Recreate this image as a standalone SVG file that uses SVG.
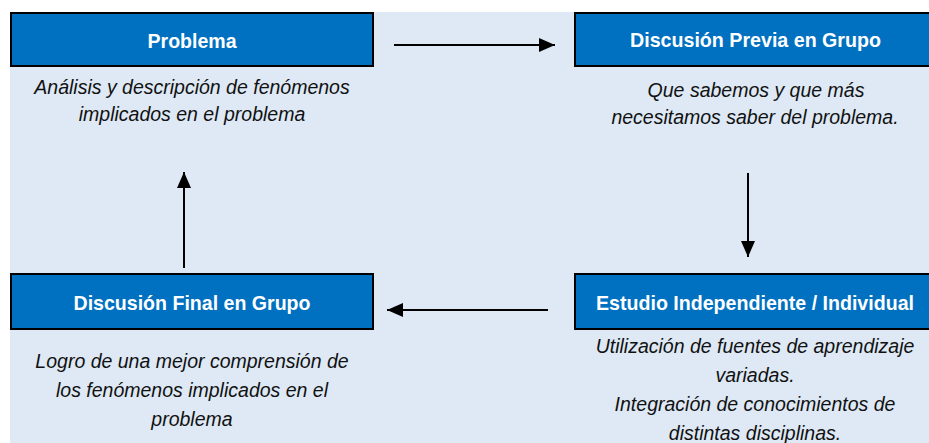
<svg xmlns="http://www.w3.org/2000/svg" width="929" height="443" viewBox="0 0 929 443">
  <defs>
    <style>
      .box { fill: #0070C0; stroke: #000; stroke-width: 2; }
      .title { font-family: "Liberation Sans", Arial, sans-serif; font-weight: bold; font-size: 21px; fill: #fff; text-anchor: middle; }
      .desc { font-family: "Liberation Sans", Arial, sans-serif; font-style: italic; font-size: 19.5px; fill: #111; text-anchor: middle; }
      .conn { stroke: #000; stroke-width: 2; fill: none; marker-end: url(#arrow); }
    </style>
    <marker id="arrow" viewBox="0 0 16 14" refX="16" refY="7" markerWidth="16" markerHeight="14" markerUnits="userSpaceOnUse" orient="auto">
      <path d="M0,0 L16,7 L0,14 Z" fill="#000"/>
    </marker>
  </defs>
  <rect x="0" y="0" width="929" height="443" fill="#fff"/>
  <rect x="10" y="12" width="919" height="431" fill="#DEE9F5"/>

  <g id="connectors">
    <line class="conn" x1="394" y1="45" x2="555" y2="45"/>
    <line class="conn" x1="748" y1="173" x2="748" y2="257"/>
    <line class="conn" x1="548" y1="310" x2="387" y2="310"/>
    <line class="conn" x1="184" y1="268" x2="184" y2="172"/>
  </g>

  <g id="problema">
    <rect class="box" x="11" y="13" width="362" height="53"/>
    <text class="title" x="192" y="48" textLength="89" lengthAdjust="spacingAndGlyphs">Problema</text>
    <text class="desc" x="192" y="94">Análisis y descripción de fenómenos</text>
    <text class="desc" x="192" y="121">implicados en el problema</text>
  </g>

  <g id="discusion-previa">
    <rect class="box" x="575" y="13" width="356" height="53"/>
    <text class="title" x="755.5" y="47" textLength="251" lengthAdjust="spacingAndGlyphs">Discusión Previa en Grupo</text>
    <text class="desc" x="756" y="97">Que sabemos y que más</text>
    <text class="desc" x="755" y="124">necesitamos saber del problema.</text>
  </g>

  <g id="estudio">
    <rect class="box" x="575" y="274" width="356" height="55"/>
    <text class="title" x="755" y="310" textLength="318" lengthAdjust="spacingAndGlyphs">Estudio Independiente / Individual</text>
    <text class="desc" x="755" y="353">Utilización de fuentes de aprendizaje</text>
    <text class="desc" x="755" y="382">variadas.</text>
    <text class="desc" x="755" y="411">Integración de conocimientos de</text>
    <text class="desc" x="755" y="440">distintas disciplinas.</text>
  </g>

  <g id="discusion-final">
    <rect class="box" x="11" y="274" width="362" height="55"/>
    <text class="title" x="192" y="310" textLength="237" lengthAdjust="spacingAndGlyphs">Discusión Final en Grupo</text>
    <text class="desc" x="192" y="368">Logro de una mejor comprensión de</text>
    <text class="desc" x="192" y="397">los fenómenos implicados en el</text>
    <text class="desc" x="192" y="426">problema</text>
  </g>
</svg>
